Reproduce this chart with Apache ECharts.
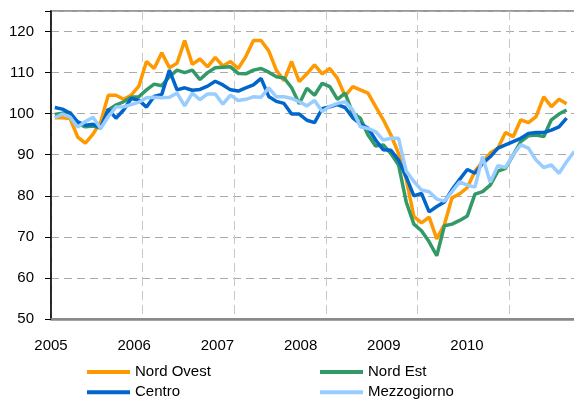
<!DOCTYPE html>
<html lang="it">
<head>
    <meta charset="UTF-8">
    <title>Nord Ovest, Nord Est, Centro, Mezzogiorno</title>
    <script src="https://cdn.jsdelivr.net/npm/echarts@6.0.0/dist/echarts.min.js"></script>
    <style>
        html, body { margin: 0; padding: 0; background: #fff; }
        #chart { width: 574px; height: 400px; }
    </style>
</head>
<body>
    <div id="chart"></div>
    <script>
    // etichette degli anni sull'asse x
    const anni = ['2005', '2006', '2007', '2008', '2009', '2010'];

    // dati mensili, gennaio 2005 - agosto 2010 (Mezzogiorno fino a settembre)
    const nordOvest = [99, 99, 98.8, 94.3, 92.8, 95, 98, 104.5, 104.5, 103.5,
        104.5, 106.7, 112.7, 111, 114.8, 111.2, 112.3, 117.8, 112, 113.3,
        111.4, 113.7, 111.6, 112.7, 111, 113.9, 117.8, 117.8, 115.3, 110.6,
        108, 112.7, 107.8, 109.7, 111.9, 109.7, 111, 108.6, 104.3, 106.6,
        105.8, 105, 101.7, 98.5, 94.8, 90.3, 84, 75, 73.4, 74.8,
        69.5, 73, 79.5, 80.5, 82, 86, 88.3, 90.4, 91.6, 95.4,
        94.4, 98.5, 97.8, 99.3, 104.1, 101.7, 103.5, 102.4];
    const nordEst = [99.8, 100.1, 100.3, 97.6, 96.8, 97, 96.5, 100.9, 102.1, 102.9,
        104, 104.1, 105.8, 107.2, 106.8, 109, 110.6, 110, 110.6, 108.3,
        110, 111.2, 111.3, 111.4, 109.8, 109.7, 110.6, 111, 110.1, 109,
        108.7, 106.3, 102.4, 106.2, 104.5, 107.4, 106.6, 103.5, 105, 100.1,
        98.9, 94.8, 92.1, 92.4, 90.3, 87.5, 78.5, 73.1, 71.5, 68.8,
        65.4, 72.7, 73.1, 74, 75.1, 80.4, 81, 82.6, 86, 86.7,
        89.9, 93.2, 94.6, 94.8, 94.4, 98.5, 99.9, 100.9];
    const centro = [101.5, 101.1, 100.1, 98, 97.2, 97.4, 96.6, 101.1, 98.9, 100.9,
        103.7, 103.3, 101.6, 104.2, 104.7, 110.6, 105.8, 106.3, 105.7, 105.9,
        106.7, 107.9, 107, 105.8, 105.5, 106.3, 107, 108.6, 104.2, 103,
        102.5, 99.9, 99.9, 98.4, 97.8, 101.2, 101.7, 102.2, 101.5, 99,
        97.5, 96.5, 93.6, 91.2, 91.1, 88.7, 84.6, 80, 80.6, 76.1,
        77.4, 78.5, 81.5, 84, 86.4, 85.5, 87.9, 89.5, 91.6, 92.4,
        93.2, 94, 95.2, 95.4, 95.4, 96, 96.8, 98.9];
    const mezzogiorno = [99, 99.9, 99.2, 96.7, 98.1, 99.1, 96.4, 99.3, 101.6, 101.7,
        102.2, 102.8, 103.9, 104, 103.9, 104, 105, 101.9, 105, 103.4,
        104.8, 104.8, 102.3, 104.5, 103.2, 103.5, 104.1, 104, 106.3, 104.1,
        104.1, 103.7, 102.9, 101.9, 103.2, 100.5, 101.8, 102.5, 102.9, 100.9,
        96.8, 96.4, 95.6, 93.6, 94, 94, 86, 83.5, 81.4, 81,
        79.2, 78.7, 81, 83.4, 82.6, 82.1, 89.5, 83.3, 87.3, 86.9,
        90, 92.4, 91.6, 88.7, 86.9, 87.5, 85.5, 88.3, 90.8];

    // una categoria per mese
    const mesi = [];
    anni.forEach(a => {
        for (let m = 1; m <= 12; m++) mesi.push(a + '-' + (m < 10 ? '0' + m : m));
    });

    const font = 'Liberation Sans, Arial, sans-serif';
    const chart = echarts.init(document.getElementById('chart'));

    const legendBase = {
        top: 364, orient: 'vertical', padding: 0, height: 60,
        icon: 'rect', itemWidth: 43, itemHeight: 4, itemGap: 4.3,
        textStyle: { fontFamily: font, fontSize: 15, lineHeight: 16, color: '#000' }
    };

    chart.setOption({
        animation: false,
        grid: {
            left: 51, top: 11, bottom: 81, width: 550,
            outerBoundsMode: 'none', containLabel: false,
            show: true, borderColor: '#999', borderWidth: 2
        },
        legend: [
            Object.assign({ left: 87, data: ['Nord Ovest', 'Centro'] }, legendBase),
            Object.assign({ left: 320, data: ['Nord Est', 'Mezzogiorno'] }, legendBase)
        ],
        xAxis: [
            {
                type: 'category',
                data: mesi,
                boundaryGap: true,
                axisLine: { lineStyle: { color: '#888', width: 2.5 } },
                axisTick: { show: false, interval: 11 },
                axisLabel: { show: false, interval: 11 },
                splitLine: {
                    show: true,
                    interval: 11,
                    lineStyle: { color: '#c8c8c8', width: 1, type: [9, 5] }
                }
            },
            {
                // solo per le etichette degli anni
                type: 'value',
                position: 'bottom',
                min: 0, max: 550 / 83.2, interval: 1,
                axisLine: { show: false },
                axisTick: { show: false },
                splitLine: { show: false },
                axisLabel: {
                    margin: 19,
                    fontFamily: font, fontSize: 15, color: '#000',
                    showMaxLabel: false,
                    formatter: v => (Number.isInteger(v) && v < anni.length) ? anni[v] : ''
                }
            }
        ],
        yAxis: {
            type: 'value',
            min: 50, max: 125, interval: 10,
            axisLine: { show: true, lineStyle: { color: '#000', width: 1.5 } },
            axisTick: { show: true, length: 6, lineStyle: { color: '#000' } },
            axisLabel: {
                margin: 17,
                fontFamily: font, fontSize: 15, color: '#000',
                formatter: v => v > 120 ? '' : v
            },
            splitLine: { lineStyle: { color: '#aaa', width: 1, type: [8, 5] } }
        },
        series: [
            { name: 'Nord Ovest', type: 'line', data: nordOvest, color: '#FF9900' },
            { name: 'Nord Est', type: 'line', data: nordEst, color: '#339966' },
            { name: 'Centro', type: 'line', data: centro, color: '#0066CC' },
            { name: 'Mezzogiorno', type: 'line', data: mezzogiorno, color: '#99CCFF' }
        ].map(s => Object.assign(s, {
            showSymbol: false,
            symbol: 'none',
            lineStyle: { width: 3.5 },
            xAxisIndex: 0
        }))
    });
    </script>
</body>
</html>
